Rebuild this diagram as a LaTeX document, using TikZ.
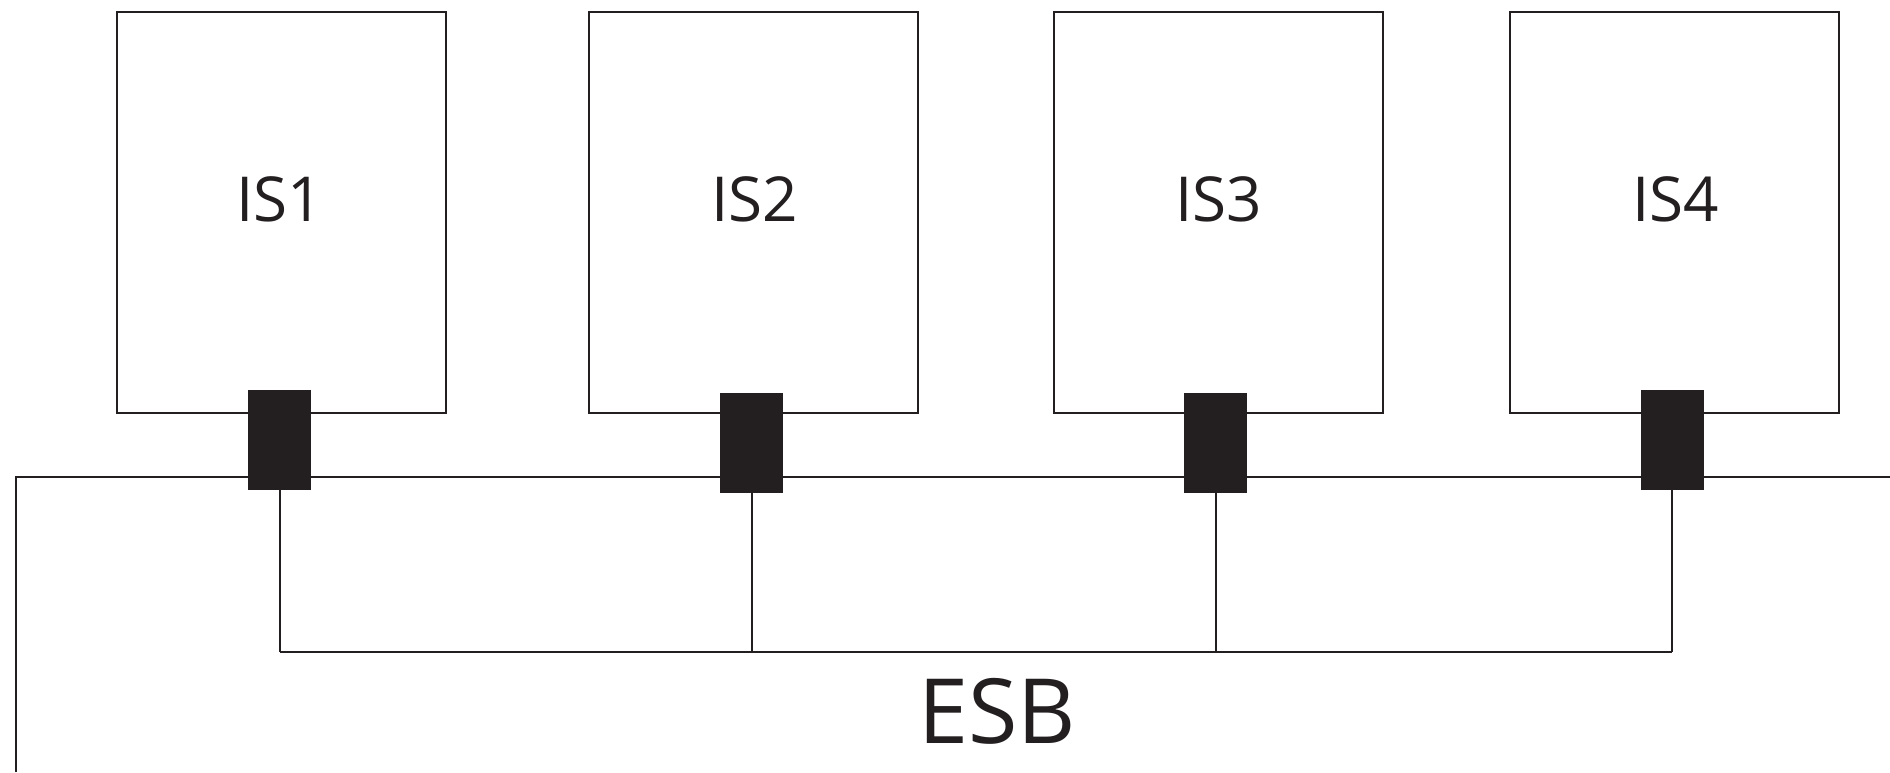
\documentclass[tikz,border=0pt]{standalone}
\usepackage{fontspec}
\setmainfont{Open Sans}
\usetikzlibrary{backgrounds}
\definecolor{ink}{HTML}{231F20}
\tikzset{
  isbox/.style={draw=ink, line width=2pt, fill=white, inner sep=0pt, minimum width=329pt, minimum height=401pt},
  port/.style={fill=ink, draw=none, inner sep=0pt, minimum width=63pt, minimum height=100pt},
  islabel/.style={text=ink, inner sep=0pt, font=\fontsize{62}{70}\selectfont},
  wire/.style={draw=ink, line width=2pt},
}
\begin{document}
\begin{tikzpicture}[x=1pt, y=-1pt]
\useasboundingbox (0,0) rectangle (1890,772);
% system boxes
\node[isbox] (is1) at (281.5,212.5) {};
\node[isbox] (is2) at (753,212.5) {};
\node[isbox] (is3) at (1218,212.5) {};
\node[isbox] (is4) at (1674,212.5) {};
\node[islabel] (t1) at (280,199) {IS1};
\node[islabel] (t2) at (755,199) {IS2};
\node[islabel] (t3) at (1219,199) {IS3};
\node[islabel] (t4) at (1676,199) {IS4};
% ports
\node[port] (p1) at (279.5,439.5) {};
\node[port] (p2) at (751.5,442.5) {};
\node[port] (p3) at (1215.5,442.5) {};
\node[port] (p4) at (1672,439.5) {};
% outer line
\coordinate (ob) at (16,772);
\coordinate (ol) at (16,477);
\coordinate (or) at (1890,477);
% bus points
\coordinate (b1) at (p1.south |- 0,652);
\coordinate (b2) at (p2.south |- 0,652);
\coordinate (b3) at (p3.south |- 0,652);
\coordinate (b4) at (p4.south |- 0,652);
\begin{scope}[on background layer]
\draw[wire] (ob) -- (ol) -- (or);
\end{scope}
\draw[wire] (p1.south) -- (b1);
\draw[wire] (p2.south) -- (b2);
\draw[wire] (p3.south) -- (b3);
\draw[wire] (p4.south) -- (b4);
\draw[wire] (b1) -- (b2) -- (b3) -- (b4);
\node[islabel, font=\fontsize{90}{100}\selectfont] (esb) at (997,711.5) {ESB};
\end{tikzpicture}
\end{document}
